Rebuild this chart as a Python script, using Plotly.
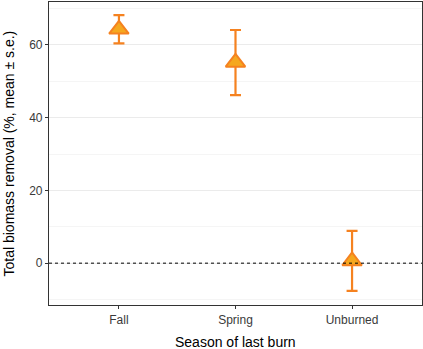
import plotly.graph_objects as go

seasons = ["Fall", "Spring", "Unburned"]
means = [64.3, 55.2, 0.6]
err_upper = [68.2, 64.1, 8.9]
err_lower = [60.4, 46.2, -7.6]

fig = go.Figure()
# dotted zero reference line
fig.add_trace(go.Scatter(
    x=[-0.6, 2.6], y=[0, 0], mode="lines", xaxis="x2",
    line=dict(color="black", width=1, dash="dot"), showlegend=False, hoverinfo="skip",
))
fig.add_trace(go.Scatter(
    x=seasons, y=means, mode="markers",
    marker=dict(symbol="triangle-up", size=17, color="#F5A81F",
                line=dict(color="#F58220", width=2)),
    error_y=dict(type="data", symmetric=False,
                 array=[u - m for u, m in zip(err_upper, means)],
                 arrayminus=[m - l for m, l in zip(means, err_lower)],
                 color="#F58220", thickness=2.2, width=5.5),
    showlegend=False,
))

fig.update_layout(
    width=423, height=349,
    margin=dict(l=49, r=1, t=2, b=44, autoexpand=False),
    plot_bgcolor="white", paper_bgcolor="white",
    font=dict(family="Liberation Sans, Arial, sans-serif", size=12, color="#3a3a3a"),
    xaxis=dict(range=[-0.6, 2.6], showgrid=False, zeroline=False, automargin=False,
               showline=True, linecolor="#333333", linewidth=1.2, mirror=True,
               ticks="outside", ticklen=3, tickcolor="#333333"),
    xaxis2=dict(overlaying="x", range=[-0.6, 2.6], visible=False),
    yaxis=dict(range=[-11.5, 71.8], tickvals=[0, 20, 40, 60], zeroline=False, automargin=False,
               showgrid=True, gridcolor="#ebebeb", gridwidth=1,
               minor=dict(tickvals=[-10, 10, 30, 50, 70], showgrid=True,
                          gridcolor="#f5f5f5", gridwidth=1),
               showline=True, linecolor="#333333", linewidth=1.2, mirror=True,
               ticks="outside", ticklen=3, tickcolor="#333333"),
    annotations=[
        dict(text="Season of last burn", xref="paper", yref="paper", x=0.5, y=0,
             yshift=-37, xanchor="center", yanchor="middle", showarrow=False,
             font=dict(size=14, color="#000000")),
        dict(text="Total biomass removal (%, mean ± s.e.)", xref="paper", yref="paper",
             x=0, y=0.5, xshift=-41, textangle=-90, xanchor="center", yanchor="middle",
             showarrow=False, font=dict(size=14, color="#000000")),
    ],
)

fig.write_html("out.html", config={"displayModeBar": False},
               post_script="document.body.style.margin='0';")
